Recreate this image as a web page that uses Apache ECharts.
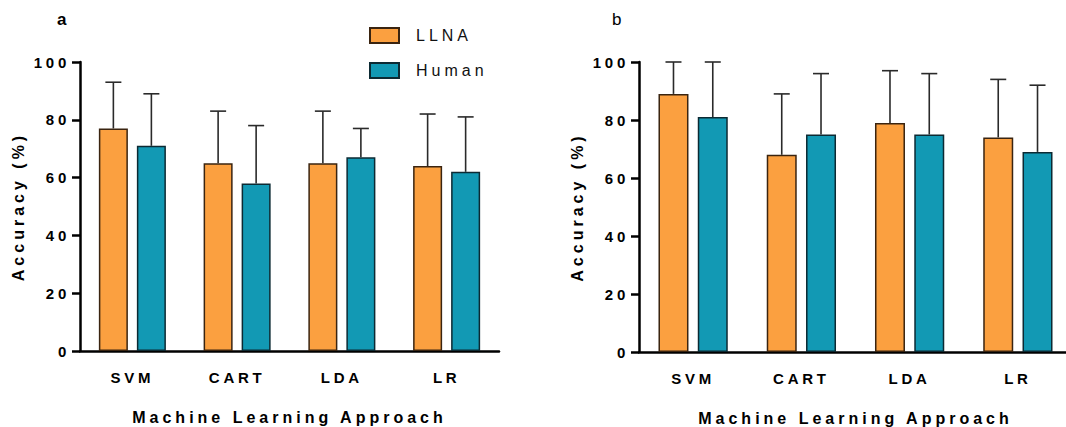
<!DOCTYPE html>
<html>
<head>
<meta charset="utf-8">
<script src="https://cdn.jsdelivr.net/npm/echarts@6/dist/echarts.min.js"></script>
<style>
  html, body { margin: 0; padding: 0; background: #fff; }
  #chart { width: 1066px; height: 427px; }
  #chart svg text { letter-spacing: 0.25em; }
</style>
</head>
<body>
<div id="chart"></div>
<script>
// ---- data ----
const categories = ['SVM', 'CART', 'LDA', 'LR'];
const seriesNames = ['LLNA', 'Human'];
const llnaA = [77, 65, 65, 64];
const llnaAErrTop = [93, 83, 83, 82];
const humanA = [71, 58, 67, 62];
const humanAErrTop = [89, 78, 77, 81];
const llnaB = [89, 68, 79, 74];
const llnaBErrTop = [100, 89, 97, 94];
const humanB = [81, 75, 75, 69];
const humanBErrTop = [100, 96, 96, 92];
const yMin = 0, yMax = 100, yStep = 20;
const yAxisTitle = 'Accuracy (%)';
const xAxisTitle = 'Machine Learning Approach';
const panelLabels = ['a', 'b'];

// ---- styles ----
const FONT = '"Liberation Sans", Arial, sans-serif';
const ORANGE = '#FBA040', TEAL = '#1299B4';
const ORANGE_BORDER = '#3a2410', TEAL_BORDER = '#0c2a33';
const BAR_W = 0.277, BAR_GAP = 0.31;
const OFFSET = (BAR_W + BAR_W * BAR_GAP) / 2;

function errSeries(name, grid, vals, tops, sign) {
  return {
    type: 'custom',
    name: name + ' err',
    xAxisIndex: grid, yAxisIndex: grid,
    silent: true,
    z: 1,
    data: vals.map((v, i) => [i, tops[i], v]),
    encode: { x: 0, y: 1 },
    renderItem: function (params, api) {
      const band = api.size([1, 0])[0];
      const top = api.coord([api.value(0), api.value(1)]);
      const base = api.coord([api.value(0), api.value(2)]);
      const x = top[0] + sign * band * OFFSET;
      const half = 8;
      const st = { stroke: '#2a2a2a', lineWidth: 1.6 };
      return {
        type: 'group',
        children: [
          { type: 'line', shape: { x1: x, y1: base[1], x2: x, y2: top[1] }, style: st },
          { type: 'line', shape: { x1: x - half, y1: top[1], x2: x + half, y2: top[1] }, style: st }
        ]
      };
    }
  };
}

function barSeries(name, grid, vals, color, border) {
  return {
    type: 'bar', name: name,
    xAxisIndex: grid, yAxisIndex: grid,
    data: vals,
    barWidth: (BAR_W * 100) + '%',
    barGap: (BAR_GAP * 100) + '%',
    z: 2,
    itemStyle: { color: color, borderColor: border, borderWidth: 1.5 }
  };
}

function xAxis(grid) {
  return {
    type: 'category', gridIndex: grid, data: categories,
    name: xAxisTitle, nameLocation: 'middle', nameGap: 58,
    nameTextStyle: { fontFamily: FONT, fontWeight: 'bold', fontSize: 16, color: '#000' },
    axisLine: { lineStyle: { color: '#000', width: 2.5 } },
    axisTick: { alignWithLabel: true, length: 8, lineStyle: { color: '#000', width: 2.5 } },
    axisLabel: { fontFamily: FONT, fontWeight: 'bold', fontSize: 15, color: '#000', margin: 19 },
    splitLine: { show: false }
  };
}
function yAxis(grid) {
  return {
    type: 'value', gridIndex: grid, min: yMin, max: yMax, interval: yStep,
    name: yAxisTitle, nameLocation: 'middle', nameGap: 54,
    nameTextStyle: { fontFamily: FONT, fontWeight: 'bold', fontSize: 16, color: '#000' },
    axisLine: { show: true, lineStyle: { color: '#000', width: 2.5 } },
    axisTick: { show: true, length: 8, lineStyle: { color: '#000', width: 2.5 } },
    axisLabel: { fontFamily: FONT, fontWeight: 'bold', fontSize: 15, color: '#000', margin: 10 },
    splitLine: { show: false }
  };
}

const chart = echarts.init(document.getElementById('chart'), null, { renderer: 'svg' });
chart.setOption({
  animation: false,
  backgroundColor: '#fff',
  title: [
    { text: panelLabels[0], left: 57, top: 11, padding: 0, textStyle: { fontFamily: FONT, fontWeight: 'bold', fontSize: 17, color: '#000' } },
    { text: panelLabels[1], left: 612, top: 11, padding: 0, textStyle: { fontFamily: FONT, fontWeight: 'normal', fontSize: 17, color: '#000' } }
  ],
  legend: {
    orient: 'vertical', left: 369, top: 27, padding: 0,
    itemWidth: 29, itemHeight: 15, itemGap: 18,
    data: seriesNames.map(n => ({ name: n, icon: 'rect' })),
    textStyle: { fontFamily: FONT, fontSize: 16, color: '#111', padding: [0, 0, 0, 12] }
  },
  grid: [
    { left: 80, top: 62, width: 419, height: 289, outerBoundsMode: 'none', containLabel: false },
    { left: 639, top: 62, width: 433, height: 290, outerBoundsMode: 'none', containLabel: false }
  ],
  xAxis: [xAxis(0), xAxis(1)],
  yAxis: [yAxis(0), yAxis(1)],
  series: [
    barSeries(seriesNames[0], 0, llnaA, ORANGE, ORANGE_BORDER),
    barSeries(seriesNames[1], 0, humanA, TEAL, TEAL_BORDER),
    barSeries(seriesNames[0], 1, llnaB, ORANGE, ORANGE_BORDER),
    barSeries(seriesNames[1], 1, humanB, TEAL, TEAL_BORDER),
    errSeries('LLNA a', 0, llnaA, llnaAErrTop, -1),
    errSeries('Human a', 0, humanA, humanAErrTop, 1),
    errSeries('LLNA b', 1, llnaB, llnaBErrTop, -1),
    errSeries('Human b', 1, humanB, humanBErrTop, 1)
  ]
});
</script>
</body>
</html>
